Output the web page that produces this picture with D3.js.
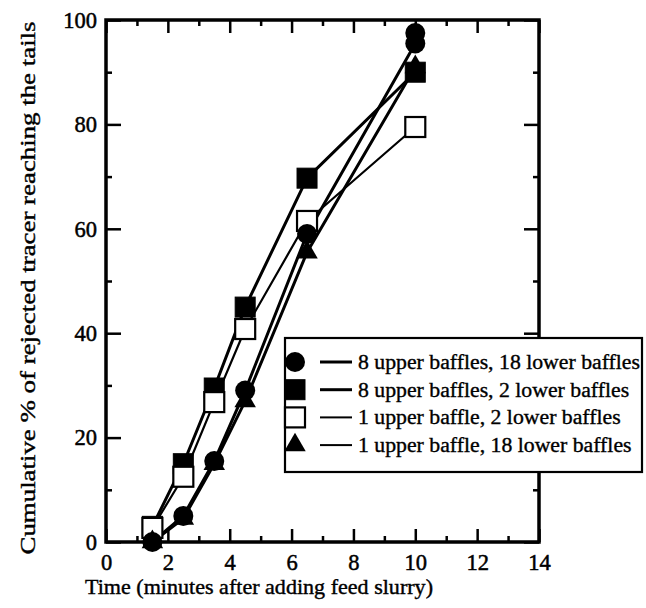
<!DOCTYPE html>
<html><head><meta charset="utf-8">
<script src="https://cdn.jsdelivr.net/npm/d3@7"></script>
<style>body{margin:0;background:#fff}svg{display:block}</style>
</head><body>
<svg id="chart" width="646" height="608"></svg>
<script>
const xMajorTicks = [0, 2, 4, 6, 8, 10, 12, 14];
const xMinorTicks = [1, 3, 5, 7, 9, 11, 13];
const yMajorTicks = [0, 20, 40, 60, 80, 100];
const yMinorTicks = [10, 30, 50, 70, 90];

const seriesNames = [
  "8 upper baffles, 18 lower baffles",
  "8 upper baffles, 2 lower baffles",
  "1 upper baffle, 2 lower baffles",
  "1 upper baffle, 18 lower baffles"
];
const circleX = [1.5, 2.5, 3.5, 4.5, 6.5, 10, 10];
const circleY = [0, 5, 15.5, 29, 59, 95.5, 97.5];
const filledSquareX = [1.5, 2.5, 3.5, 4.5, 6.5, 10];
const filledSquareY = [3, 15, 29.5, 45, 69.7, 90];
const openSquareX = [1.5, 2.5, 3.5, 4.5, 6.5, 10];
const openSquareY = [2.7, 12.5, 26.8, 40.8, 61.5, 79.5];
const triangleX = [1.5, 2.5, 3.5, 4.5, 6.5, 10];
const triangleY = [0, 4.5, 15, 27, 55.5, 91];

const xTitle = "Time (minutes after adding feed slurry)";
const yTitle = "Cumulative % of rejected tracer reaching the tails";

const svg = d3.select("#chart");
const FONT = "'Liberation Serif','Times New Roman',serif";
const L = 106, R = 539, T = 20, B = 542;
const x = d3.scaleLinear().domain([0, 14]).range([L, R]);
const y = d3.scaleLinear().domain([0, 100]).range([B, T]);

function styleAxis(g, fs) {
  g.attr("font-family", FONT).attr("font-size", fs);
  g.select(".domain").remove();
  g.selectAll("line").attr("stroke", "#000").attr("stroke-width", 2.5);
  g.selectAll("text").attr("font-family", FONT).attr("font-size", fs).attr("fill", "#000")
    .attr("stroke", "#000").attr("stroke-width", 0.5);
}
svg.append("g").attr("transform", `translate(0,${B})`)
  .call(d3.axisBottom(x).tickValues(xMajorTicks).tickSize(-13).tickPadding(12).tickFormat(d3.format("d")))
  .call(g => styleAxis(g, 22.5));
svg.append("g").attr("transform", `translate(0,${B})`)
  .call(d3.axisBottom(x).tickValues(xMinorTicks).tickSize(-6).tickFormat(""))
  .call(g => styleAxis(g, 22));
svg.append("g").attr("transform", `translate(0,${T})`)
  .call(d3.axisTop(x).tickValues(xMajorTicks).tickSize(-13).tickFormat(""))
  .call(g => styleAxis(g, 22));
svg.append("g").attr("transform", `translate(0,${T})`)
  .call(d3.axisTop(x).tickValues(xMinorTicks).tickSize(-6).tickFormat(""))
  .call(g => styleAxis(g, 22));
svg.append("g").attr("transform", `translate(${L},0)`)
  .call(d3.axisLeft(y).tickValues(yMajorTicks).tickSize(-15).tickPadding(9).tickFormat(d3.format("d")))
  .call(g => styleAxis(g, 22.5));
svg.append("g").attr("transform", `translate(${L},0)`)
  .call(d3.axisLeft(y).tickValues(yMinorTicks).tickSize(-6).tickFormat(""))
  .call(g => styleAxis(g, 22));
svg.append("g").attr("transform", `translate(${R},0)`)
  .call(d3.axisRight(y).tickValues(yMajorTicks).tickSize(-15).tickFormat(""))
  .call(g => styleAxis(g, 22));
svg.append("g").attr("transform", `translate(${R},0)`)
  .call(d3.axisRight(y).tickValues(yMinorTicks).tickSize(-6).tickFormat(""))
  .call(g => styleAxis(g, 22));

svg.append("rect").attr("x", L).attr("y", T).attr("width", R - L).attr("height", B - T)
  .attr("fill", "none").attr("stroke", "#000").attr("stroke-width", 3.5);

// titles
svg.append("text").attr("x", 259).attr("y", 594)
  .attr("text-anchor", "middle").attr("font-family", FONT).attr("font-size", 21)
  .attr("stroke", "#000").attr("stroke-width", 0.4)
  .attr("textLength", 348).attr("lengthAdjust", "spacingAndGlyphs").text(xTitle);
svg.append("text").attr("transform", `translate(35,${288}) rotate(-90)`)
  .attr("text-anchor", "middle").attr("font-family", FONT).attr("font-size", 22)
  .attr("stroke", "#000").attr("stroke-width", 0.4)
  .attr("textLength", 533).attr("lengthAdjust", "spacingAndGlyphs").text(yTitle);

// series
const series = [
  {xs: filledSquareX, ys: filledSquareY, shape: "fsquare", w: 3},
  {xs: openSquareX, ys: openSquareY, shape: "osquare", w: 2.2},
  {xs: triangleX, ys: triangleY, shape: "triangle", w: 3},
  {xs: circleX, ys: circleY, shape: "circle", w: 3}
];
const line = d3.line().x(d => x(d[0])).y(d => y(d[1]));
series.forEach(s => {
  const pts = s.xs.map((v, i) => [v, s.ys[i]]);
  svg.append("path").datum(pts).attr("d", line).attr("fill", "none")
    .attr("stroke", "#000").attr("stroke-width", s.w).attr("stroke-linejoin", "round");
});
function marker(g, shape, cx, cy, scale) {
  const k = scale || 1;
  if (shape === "circle") {
    g.append("circle").attr("cx", cx).attr("cy", cy).attr("r", 10 * k).attr("fill", "#000");
  } else if (shape === "fsquare" || shape === "osquare") {
    const s = 20 * k;
    g.append("rect").attr("x", cx - s / 2).attr("y", cy - s / 2).attr("width", s).attr("height", s)
      .attr("fill", shape === "fsquare" ? "#000" : "#fff").attr("stroke", "#000").attr("stroke-width", shape === "fsquare" ? 1 : 2.2);
  } else {
    g.append("path").attr("transform", `translate(${cx},${cy})`)
      .attr("d", d3.symbol().type(d3.symbolTriangle).size(200 * k * k)()).attr("fill", "#000");
  }
}
series.forEach(s => {
  const g = svg.append("g");
  s.xs.forEach((v, i) => marker(g, s.shape, x(v), y(s.ys[i])));
});

// legend
const lg = svg.append("g");
lg.append("rect").attr("x", 285).attr("y", 338).attr("width", 357).attr("height", 134)
  .attr("fill", "#fff").attr("stroke", "#000").attr("stroke-width", 2.2);
const legendShapes = ["circle", "fsquare", "osquare", "triangle"];
const legendW = [3, 3, 2, 2];
const texts = [];
legendShapes.forEach((sh, i) => {
  const cy = 362 + i * 27.7;
  marker(lg, sh, 295, cy, 1);
  lg.append("line").attr("x1", 320).attr("x2", 352).attr("y1", cy).attr("y2", cy)
    .attr("stroke", "#000").attr("stroke-width", legendW[i]);
  texts.push(lg.append("text").attr("x", 358).attr("y", cy).attr("dy", "0.35em")
    .attr("font-family", FONT).attr("font-size", 20)
    .attr("stroke", "#000").attr("stroke-width", 0.35).text(seriesNames[i]));
});
const base = texts[0].node().getComputedTextLength();
const factor = 282 / base;
texts.forEach(t => {
  const len = t.node().getComputedTextLength();
  t.attr("textLength", len * factor).attr("lengthAdjust", "spacingAndGlyphs");
});
</script>
</body></html>
